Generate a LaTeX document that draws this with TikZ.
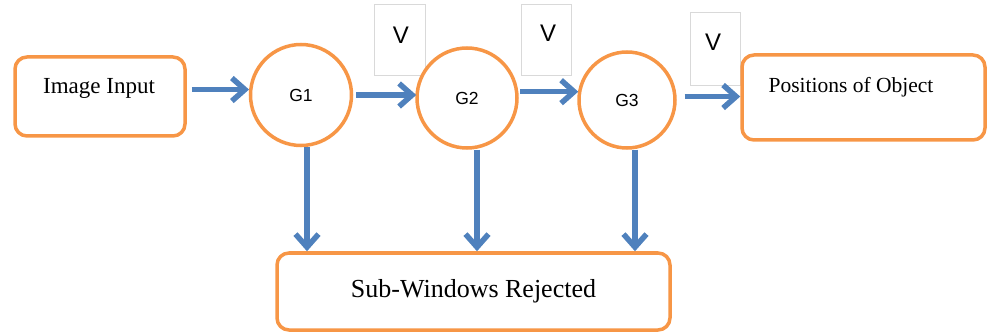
\documentclass[tikz,border=0pt]{standalone}
\usepackage{fontspec}
\setmainfont{Liberation Serif}
\setsansfont{Liberation Sans}
\usetikzlibrary{arrows.meta}
\definecolor{ofcorange}{HTML}{F79646}
\definecolor{ofcblue}{HTML}{4F81BD}
\definecolor{vgray}{HTML}{D9D9D9}
\tikzset{
  box/.style={draw=ofcorange, line width=3.5pt, rounded corners=12pt, fill=white, inner sep=0pt},
  gate/.style={draw=ofcorange, line width=3.5pt, circle, fill=white, inner sep=0pt, font=\sffamily\fontsize{17.5}{17.5}\selectfont},
  vbox/.style={draw=vgray, line width=1pt, fill=white, inner sep=0pt},
  vtext/.style={font=\sffamily\fontsize{24}{24}\selectfont, inner sep=0pt},
  lbl/.style={font=\fontsize{23}{23}\selectfont, inner sep=0pt},
  arr/.style={draw=ofcblue, line width=5.5pt, -{Straight Barb[length=13pt, width=23pt, line width=5.5pt]}},
}
\begin{document}
\begin{tikzpicture}[x=1pt, y=-1pt]
\useasboundingbox (0,0) rectangle (989,334);
% V boxes (behind circles)
\node[vbox, minimum width=51pt, minimum height=71pt] (v1) at (399.5,40.5) {};
\node[vtext] (v1t) at (401,35) {V};
\node[vbox, minimum width=50pt, minimum height=71pt] (v2) at (546,40.5) {};
\node[vtext] (v2t) at (548,33) {V};
\node[vbox, minimum width=50pt, minimum height=73pt] (v3) at (715,49.5) {};
\node[vtext] (v3t) at (713,42) {V};
% boxes
\node[box, minimum width=170pt, minimum height=79pt] (in) at (100,96.5) {};
\node[lbl] (intext) at (99,88) {Image Input};
\node[box, minimum width=243pt, minimum height=85pt] (pos) at (863.5,97.5) {};
\node[lbl, font=\fontsize{21.5}{21.5}\selectfont] (postext) at (851,87) {Positions of Object};
\node[box, minimum width=393pt, minimum height=77pt, font=\fontsize{26}{26}\selectfont] (sub) at (473.5,291.5) {Sub-Windows Rejected};
% gates
\node[gate, minimum size=101pt] (g1) at (301,95) {G1};
\node[gate, minimum size=100pt] (g2) at (467,98) {G2};
\node[gate, minimum size=96pt] (g3) at (627,100) {G3};
% horizontal arrows
\draw[arr] ([xshift=5pt]in.east |- g1.174) -- (g1.174);
\draw[arr] ([xshift=3pt]g1.east) -- ([xshift=1pt]g2.west |- g1.east);
\draw[arr] ([xshift=2pt]g2.7) -- ([xshift=1pt]g3.west |- g2.7);
\draw[arr] ([xshift=8pt]g3.4) -- (pos.west |- g3.4);
% vertical arrows
\draw[arr] ([xshift=6pt]g1.south) -- ([xshift=6pt]g1.south |- sub.north);
\draw[arr] ([xshift=10pt]g2.south) -- ([xshift=10pt]g2.south |- sub.north);
\draw[arr] ([xshift=8pt]g3.south) -- ([xshift=8pt]g3.south |- sub.north);
\end{tikzpicture}
\end{document}
